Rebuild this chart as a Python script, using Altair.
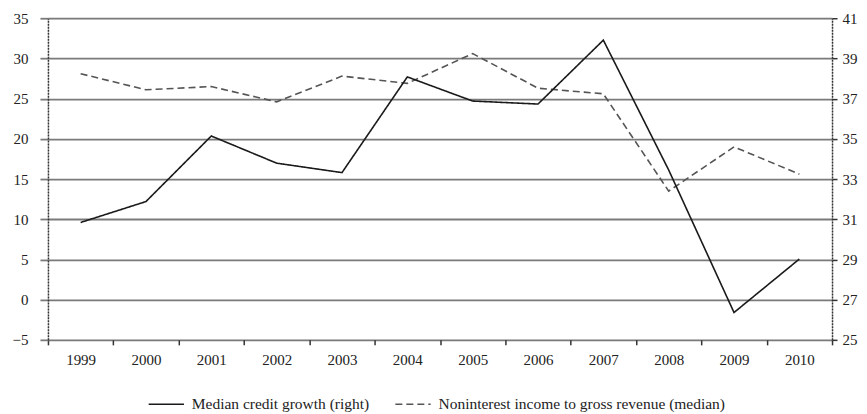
import altair as alt
import pandas as pd

years = ["1999", "2000", "2001", "2002", "2003", "2004", "2005", "2006", "2007", "2008", "2009", "2010"]
credit_growth_right = [30.84, 31.88, 35.14, 33.79, 33.32, 38.08, 36.88, 36.73, 39.91, 33.45, 26.36, 29.02]
nonint_income_left = [28.1, 26.1, 26.5, 24.6, 27.8, 26.9, 30.6, 26.3, 25.6, 13.5, 19.0, 15.6]
series_names = ["Median credit growth (right)", "Noninterest income to gross revenue (median)"]
left_ticks = [-5, 0, 5, 10, 15, 20, 25, 30, 35]
right_ticks = [25, 27, 29, 31, 33, 35, 37, 39, 41]

df_credit = pd.DataFrame({"year": years, "value": credit_growth_right, "series": series_names[0]})
df_nonint = pd.DataFrame({"year": years, "value": nonint_income_left, "series": series_names[1]})

FONT = "'Liberation Serif', 'DejaVu Serif', serif"
TXT = "#222222"

x_enc = alt.X(
    "year:O", sort=years,
    scale=alt.Scale(type="band", paddingInner=0, paddingOuter=0),
    axis=alt.Axis(title=None, labelAngle=0, tickBand="extent", domain=False, grid=False,
                  ticks=True, tickSize=5, tickColor="#333333", tickWidth=1.5,
                  labelPadding=8, labelFont=FONT, labelFontSize=15, labelColor=TXT),
)


def make_legend():
    return alt.Legend(orient="none", legendX=100, legendY=368, direction="horizontal",
                      title=None, symbolType="stroke", symbolSize=1250,
                      symbolStrokeWidth=1.5, labelFont=FONT, labelFontSize=15.5,
                      labelColor=TXT, columnPadding=22, labelOffset=7, padding=0,
                      labelLimit=500)


color_enc = alt.Color("series:N", scale=alt.Scale(domain=series_names, range=["#1a1a1a", "#555555"]),
                      legend=make_legend())
dash_enc = alt.StrokeDash("series:N", scale=alt.Scale(domain=series_names, range=[[1, 0], [7, 4]]),
                          legend=make_legend())

left = alt.Chart(df_nonint).mark_line(strokeWidth=1.6).encode(
    x=x_enc,
    y=alt.Y("value:Q", scale=alt.Scale(domain=[-5, 35], nice=False, zero=False),
            axis=alt.Axis(title=None, orient="left", values=left_ticks, grid=True,
                          gridColor="#7a7a7a", gridWidth=1.8,
                          domain=True, domainColor="#333333", domainDash=[2, 1], domainWidth=1.5,
                          ticks=True, tickSize=8, tickColor="#7a7a7a", tickWidth=1.8,
                          labelPadding=12, labelFont=FONT, labelFontSize=15, labelColor=TXT)),
    color=color_enc,
    strokeDash=dash_enc,
)

right = alt.Chart(df_credit).mark_line(strokeWidth=1.6).encode(
    x=x_enc,
    y=alt.Y("value:Q", scale=alt.Scale(domain=[25, 41], nice=False, zero=False),
            axis=alt.Axis(title=None, orient="right", values=right_ticks, grid=False,
                          domain=True, domainColor="#333333", domainDash=[2, 1], domainWidth=1.5,
                          ticks=True, tickSize=5, tickColor="#333333", tickWidth=1.5,
                          labelPadding=5, labelFont=FONT, labelFontSize=15, labelColor=TXT)),
    color=color_enc,
    strokeDash=dash_enc,
)

chart = alt.layer(left, right).resolve_scale(y="independent").properties(
    width=785, height=322,
    padding={"left": 4, "top": 3, "right": 2, "bottom": 0},
).configure_view(stroke=None).configure(background="white")

chart.save("out.html", embed_options={"renderer": "svg", "actions": False})
